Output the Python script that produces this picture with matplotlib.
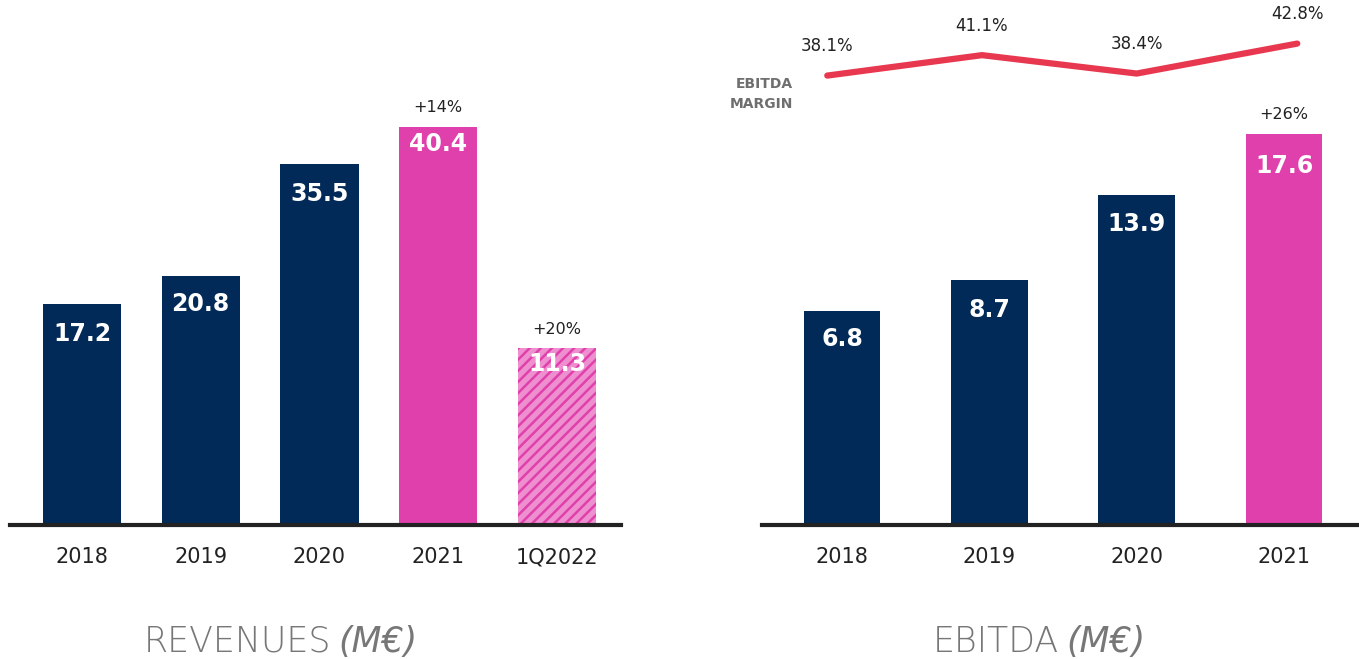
import matplotlib.pyplot as plt

# data
rev_years = ['2018', '2019', '2020', '2021', '1Q2022']
rev_values = [17.2, 20.8, 35.5, 40.4, 11.3]
rev_growth = ['', '', '', '+14%', '+20%']

ebitda_years = ['2018', '2019', '2020', '2021']
ebitda_values = [6.8, 8.7, 13.9, 17.6]
ebitda_growth = ['', '', '', '+26%']
ebitda_margin = [38.1, 41.1, 38.4, 42.8]

NAVY = '#012a58'
PINK = '#e040ab'
LIGHT_PINK = '#ee8fd0'
RED = '#e8384f'
GREY = '#777777'
DARK = '#222222'

plt.rcParams['font.family'] = 'DejaVu Sans'
plt.rcParams['hatch.linewidth'] = 1.8

W, H = 1359, 659
fig = plt.figure(figsize=(W / 100, H / 100), dpi=100)

# the original chart has a truncated baseline, so bars start below zero
rev_base = -11.9
ebitda_base = -6.3


def setupAxis(ax, labels, base, top, xlim):
    ax.set_xlim(*xlim)
    ax.set_ylim(base, top)
    for side in ['left', 'right', 'top']:
        ax.spines[side].set_visible(False)
    ax.spines['bottom'].set_linewidth(3)
    ax.spines['bottom'].set_color(DARK)
    ax.spines['bottom'].set_zorder(5)
    ax.set_yticks([])
    ax.set_xticks(range(len(labels)))
    ax.set_xticklabels(labels, fontsize=15, color=DARK)
    ax.tick_params(axis='x', length=0, pad=16)
    ax.patch.set_alpha(0)


def drawBars(ax, values, base, width, styles, offsets, growth):
    for i, v in enumerate(values):
        face, hatch = styles[i]
        if hatch:
            ax.bar(i, v - base, width, bottom=base, color=face, edgecolor=PINK,
                   hatch=hatch, linewidth=0)
        else:
            ax.bar(i, v - base, width, bottom=base, color=face, linewidth=0)
        ax.annotate(f'{v}', (i, v), xytext=(0, offsets[i]), textcoords='offset points',
                    ha='center', va='center', color='white', fontsize=17,
                    fontweight='bold')
        if growth[i]:
            ax.annotate(growth[i], (i, v), xytext=(0, 14), textcoords='offset points',
                        ha='center', va='center', color=DARK, fontsize=11.5)


# revenues
axL = fig.add_axes([10 / W, 134 / H, 611 / W, 525 / H])
setupAxis(axL, rev_years, rev_base, 57.1, (-0.606, 4.539))
drawBars(axL, rev_values, rev_base, 0.66,
         [(NAVY, None), (NAVY, None), (NAVY, None), (PINK, None), (LIGHT_PINK, '///')],
         [-22, -20, -21, -12, -11], rev_growth)

# ebitda
axR = fig.add_axes([762 / W, 134 / H, 597 / W, 525 / H])
setupAxis(axR, ebitda_years, ebitda_base, 25.8, (-0.543, 3.509))
drawBars(axR, ebitda_values, ebitda_base, 0.52,
         [(NAVY, None), (NAVY, None), (NAVY, None), (PINK, None)],
         [-20, -22, -21, -23], ebitda_growth)

# ebitda margin line (spread a bit wider than the bars, as in the original)
margin_x = [-0.1, 0.95, 2.0, 3.09]
axM = axR.twinx()
axM.set_ylim(-27.9, 49.2)
axM.axis('off')
axM.plot(margin_x, ebitda_margin, color=RED, linewidth=4.5,
         solid_capstyle='round')
for x, m in zip(margin_x, ebitda_margin):
    axM.annotate(f'{m}%', (x, m), xytext=(0, 21), textcoords='offset points',
                 ha='center', va='center', color=DARK, fontsize=12)

fig.text(793 / W, 1 - 94 / H, 'EBITDA\nMARGIN', ha='right', va='center',
         fontsize=10, fontweight='bold', color='#6f6f6f', linespacing=1.5)

# titles under the charts
fig.text(331 / W, 1 - 642 / H, 'REVENUES', ha='right', va='center',
         fontsize=25, color=GREY, fontweight='light')
fig.text(338 / W, 1 - 642 / H, '(M€)', ha='left', va='center',
         fontsize=25, color=GREY, style='italic', fontweight='light')
fig.text(1059 / W, 1 - 642 / H, 'EBITDA', ha='right', va='center',
         fontsize=25, color=GREY, fontweight='light')
fig.text(1066 / W, 1 - 642 / H, '(M€)', ha='left', va='center',
         fontsize=25, color=GREY, style='italic', fontweight='light')

fig.savefig('out.png', dpi=100)
